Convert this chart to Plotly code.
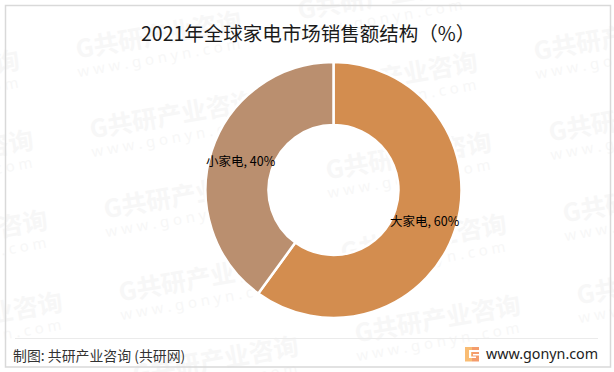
import math
import plotly.graph_objects as go

categories = ["大家电", "小家电"]
shares = [60, 40]
slice_colors = ["#D38D4F", "#BA8F6F"]
title_text = "2021年全球家电市场销售额结构（%）"
source_text = "制图: 共研产业咨询 (共研网)"
site_text = "www.gonyn.com"
wm_cn = "G共研产业咨询"
wm_en = "w w w . g o n y n . c o m"
wm_anchors = [(-150, 91), (-136, 171), (-122, 251), (-107, 333),
              (72, 52), (86, 132), (100, 212), (115, 295), (129, 377),
              (294, 13), (308, 93), (322, 173), (337, 255), (351, 336),
              (516, -26), (530, 54), (545, 135), (559, 216), (573, 298)]

W, H = 614, 372
CX, CY, R_OUT, R_IN = 333.5, 190, 128, 65
fx = lambda x: x / W
fy = lambda y: 1 - y / H


def rect(x0, y0, x1, y1, **kw):
    return dict(type="rect", xref="paper", yref="paper", x0=fx(x0), x1=fx(x1), y0=fy(y0), y1=fy(y1), **kw)


fig = go.Figure()
fig.add_trace(go.Pie(
    labels=categories, values=shares, sort=False, direction="clockwise", rotation=0,
    hole=R_IN / R_OUT, marker=dict(colors=slice_colors, line=dict(color="white", width=2.5)),
    domain=dict(x=[fx(CX - R_OUT), fx(CX + R_OUT)], y=[fy(CY + R_OUT), fy(CY - R_OUT)]),
    textinfo="none", showlegend=False, hoverinfo="label+percent",
))

shapes = []
for gx, gy in wm_anchors:
    shapes.append(rect(gx + 77, gy - 20, gx + 97, gy - 10, layer="below", line=dict(width=0),
                       label=dict(text=f"<b>{wm_cn}</b>", textangle=-10, textposition="middle center",
                                  font=dict(family="Noto Sans CJK SC", size=25, color="#F7F7F7"))))
    shapes.append(rect(gx + 77, gy + 2, gx + 97, gy + 10, layer="below", line=dict(width=0),
                       label=dict(text=wm_en, textangle=-10, textposition="middle center",
                                  font=dict(family="Noto Sans", size=15, color="#F7F7F7"))))
shapes += [
    rect(5.5, 5.5, 610.5, 367, line=dict(color="#D9D9D9", width=1.5), layer="above"),
    dict(type="line", xref="paper", yref="paper", x0=fx(15), x1=fx(598), y0=fy(338.5), y1=fy(338.5),
         line=dict(color="#EBEBEB", width=1)),
    rect(465, 347, 472, 361.5, line=dict(width=0), fillcolor="#F9BC73"),
    rect(472, 347, 479, 361.5, line=dict(width=0), fillcolor="#F49C6C"),
    rect(469, 350, 479, 352, line=dict(width=0), fillcolor="white"),
    rect(469, 352, 471, 358, line=dict(width=0), fillcolor="white"),
    rect(471, 356.5, 476, 358, line=dict(width=0), fillcolor="white"),
    rect(473, 354, 479, 355.5, line=dict(width=0), fillcolor="white"),
]

annotations = []
cum = 0
total = sum(shares)
for name, v in zip(categories, shares):
    mid = (cum + v / 2) / total * 2 * math.pi
    cum += v
    r = (R_OUT + R_IN) / 2
    annotations.append(dict(x=fx(CX + r * math.sin(mid) - 0.5), y=fy(CY - r * math.cos(mid) + 0.8),
                            xref="paper", yref="paper", xanchor="center", yanchor="middle",
                            text=f"{name}, {v}%", showarrow=False,
                            font=dict(family="Noto Sans CJK SC", size=12.5, color="black")))
annotations += [
    dict(x=fx(308), y=fy(32.5), xref="paper", yref="paper", xanchor="center", yanchor="middle",
         text=title_text, showarrow=False,
         font=dict(family="Noto Sans CJK SC", size=19.5, color="#1A1A1A")),
    dict(x=fx(11), y=fy(355), xref="paper", yref="paper", xanchor="left", yanchor="middle",
         text=source_text, showarrow=False,
         font=dict(family="Noto Sans CJK SC", size=13.9, color="#333333")),
    dict(x=fx(600), y=fy(353.5), xref="paper", yref="paper", xanchor="right", yanchor="middle",
         text=site_text, showarrow=False,
         font=dict(family="Noto Sans", size=14.3, color="#222222")),
]

fig.update_layout(width=W, height=H, margin=dict(l=0, r=0, t=0, b=0), paper_bgcolor="white",
                  annotations=annotations, shapes=shapes)
fig.write_html("out.html", post_script="document.body.style.margin='0';document.body.style.overflow='hidden';",
               config=dict(displayModeBar=False))
